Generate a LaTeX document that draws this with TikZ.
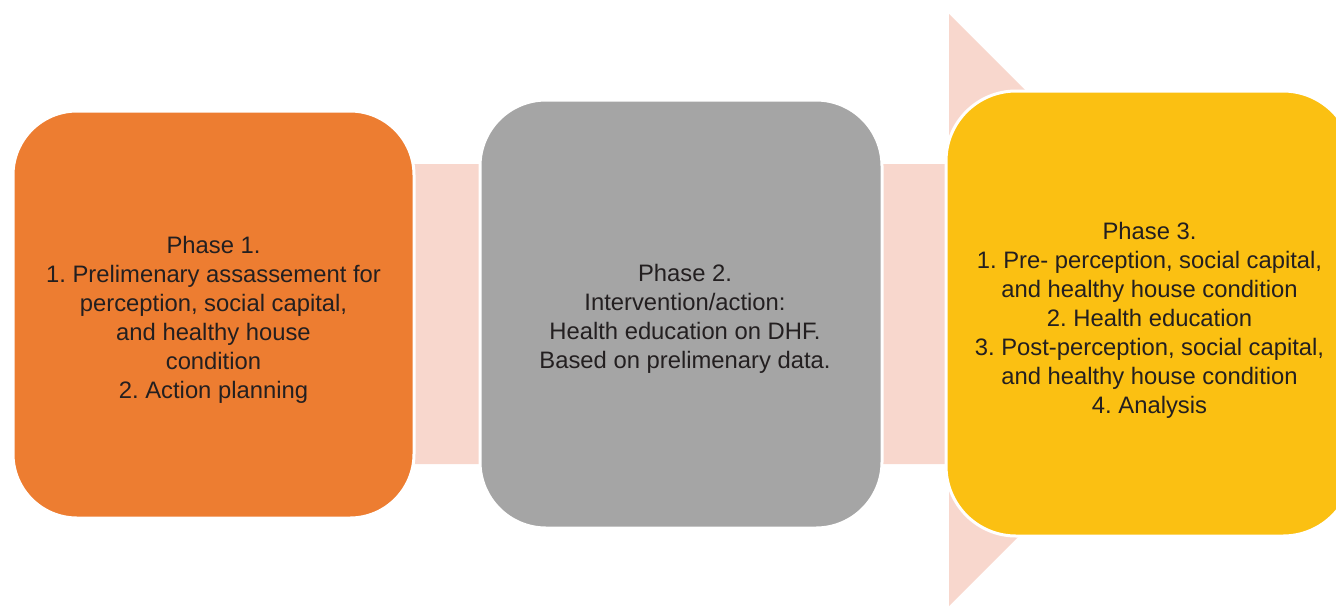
\documentclass[tikz,border=0pt]{standalone}
\usepackage{fontspec}
\setmainfont{Liberation Sans}
\definecolor{orangeA}{HTML}{ED7D31}
\definecolor{grayA}{HTML}{A5A5A5}
\definecolor{yellowA}{HTML}{FBC012}
\definecolor{pinkA}{HTML}{F8D7CD}
\definecolor{txt}{HTML}{231F20}
\begin{document}
\frenchspacing
\begin{tikzpicture}[x=1pt,y=-1pt,
  phase/.style={rectangle, draw=white, line width=3pt, inner sep=0pt,
    align=center, text=txt, font=\fontsize{23.8}{29}\selectfont}]
\useasboundingbox (0,0) rectangle (1336,606);
\clip (0,0) rectangle (1336,606);
\fill[pinkA] (200,164) -- (949,164) -- (949,14) -- (1245,310) -- (949,606) -- (949,464) -- (200,464) -- cycle;
\node[phase, fill=orangeA, minimum width=401pt, minimum height=407pt, rounded corners=64pt] (p1) at (213.5,314.5)
  {\rule{0pt}{27pt}Phase 1.\\1. Prelimenary assassement for\\perception, social capital,\\and healthy house\\condition\\2. Action planning};
\node[phase, fill=grayA, minimum width=402pt, minimum height=428pt, rounded corners=66pt] (p2) at (681,314)
  {\hspace*{8pt}\rule{0pt}{27pt}Phase 2.\\\hspace*{8pt}Intervention/action:\\\hspace*{8pt}Health education on DHF.\\\hspace*{8pt}Based on prelimenary data.};
\node[phase, fill=yellowA, minimum width=407pt, minimum height=445pt, rounded corners=70pt] (p3) at (1149.5,313.5)
  {\rule{0pt}{31pt}Phase 3.\\1. Pre- perception, social capital,\\and healthy house condition\\2. Health education\\3. Post-perception, social capital,\\and healthy house condition\\4. Analysis};
\end{tikzpicture}
\end{document}
